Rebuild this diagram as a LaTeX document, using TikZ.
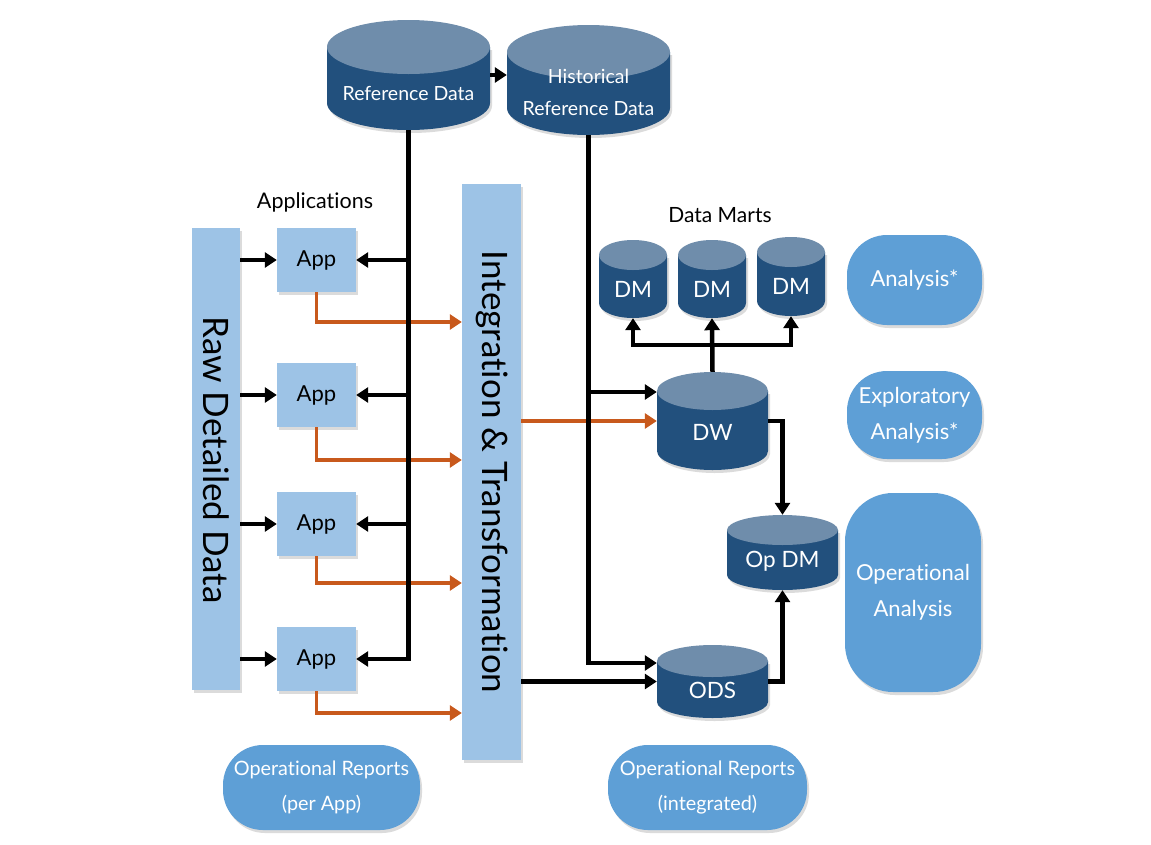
\documentclass[tikz,border=0pt]{standalone}
\usepackage{fontspec}
\setmainfont{Lato}[Ligatures=NoCommon]
\usetikzlibrary{arrows.meta,shadows}
\definecolor{cylbodyc}{HTML}{22507D}
\definecolor{cyltopc}{HTML}{6F8DAB}
\definecolor{lightc}{HTML}{9DC3E6}
\definecolor{pillc}{HTML}{5E9FD6}
\definecolor{orangec}{HTML}{C8591C}
\tikzset{
  shad/.style={drop shadow={opacity=0.28,shadow xshift=2pt,shadow yshift=-3pt}},
  cylbody/.style={fill=cylbodyc,shad},
  cyltop/.style={fill=cyltopc},
  cylnode/.style={rectangle,inner sep=0pt,draw=none},
  cyltext/.style={text=white,align=center,inner sep=0pt},
  smalltxt/.style={font=\fontsize{19.5}{32}\selectfont},
  bigtxt/.style={font=\fontsize{22.5}{32}\selectfont},
  lightbox/.style={rectangle,fill=lightc,inner sep=0pt,shad},
  apptext/.style={font=\fontsize{22}{26}\selectfont},
  rottext/.style={rotate=-90,font=\fontsize{35}{40}\selectfont,inner sep=0pt},
  pill/.style={rectangle,fill=pillc,text=white,align=center,inner sep=0pt,shad,font=\fontsize{22}{36}\selectfont},
  pillsmall/.style={font=\fontsize{19.8}{35}\selectfont},
  lbl/.style={font=\fontsize{21.5}{25}\selectfont,inner sep=0pt},
  arr/.style={line width=4.5pt,-{Triangle[length=12pt,width=15pt]}},
  oarr/.style={line width=3.5pt,draw=orangec,-{Triangle[length=12pt,width=15pt]}},
}
\newcommand\dbcyl[9]{%
  \pgfmathsetmacro\cylrx{(#4-#2)/2}%
  \pgfmathsetmacro\cylcx{(#4+#2)/2}%
  \pgfmathsetmacro\cylcy{(#3+#5)/2}%
  \pgfmathsetmacro\cylw{#4-#2}%
  \pgfmathsetmacro\cylh{#5-#3}%
  \fill[cylbody] (#2,#3+#6) -- (#2,#5-#6) arc[start angle=180,end angle=360,x radius=\cylrx pt,y radius=#6 pt] -- (#4,#3+#6) -- cycle;
  \fill[cyltop] (\cylcx,#3+#6) ellipse[x radius=\cylrx pt,y radius=#6 pt];
  \node[cylnode,minimum width=\cylw pt,minimum height=\cylh pt] (#1) at (\cylcx,\cylcy) {};
  \node[cyltext,#9] (#1-t) at (\cylcx,#7) {#8};
}
\begin{document}
\begin{tikzpicture}[x=1pt,y=-1pt]
\useasboundingbox[fill=white] (0,0) rectangle (1151,844);

% cylinders
\dbcyl{ref}{327}{20}{490}{130}{27}{93}{Reference Data}{smalltxt}
\dbcyl{hist}{507}{25}{670}{135}{27}{92}{Historical\\Reference Data}{smalltxt}
\dbcyl{dm1}{599}{240}{667}{318}{15}{289}{DM}{bigtxt}
\dbcyl{dm2}{678}{240}{746}{318}{15}{289}{DM}{bigtxt}
\dbcyl{dm3}{757}{237}{825}{316}{15}{286}{DM}{bigtxt}
\dbcyl{dw}{657}{372}{768}{470}{19}{432}{DW}{bigtxt}
\dbcyl{opdm}{727}{515}{838}{590}{15}{561}{Op DM}{bigtxt}
\dbcyl{ods}{657}{645}{768}{718}{16}{690}{ODS}{bigtxt}

% light boxes
\node[lightbox,minimum width=48pt,minimum height=462pt] (raw) at (216,459) {};
\node[rottext] (raw-t) at (216,460) {Raw Detailed Data};
\node[lightbox,minimum width=59pt,minimum height=576pt] (integ) at (491.5,472) {};
\node[rottext] (integ-t) at (492,472) {Integration \& Transformation};
\foreach \i/\y in {1/260,2/395,3/524,4/659}{
  \node[lightbox,apptext,minimum width=79pt,minimum height=64pt] (app\i) at (316.5,\y) {App};
}

% labels
\node[lbl] (applbl) at (315,202) {Applications};
\node[lbl,font=\fontsize{21}{25}\selectfont] (dmlbl) at (720,215) {Data Marts};

% pills
\node[pill,minimum width=135pt,minimum height=90pt,rounded corners=40pt] (analysis) at (914.5,280) {Analysis*};
\node[pill,minimum width=135pt,minimum height=88pt,rounded corners=40pt] (explor) at (914.5,415) {Exploratory\\Analysis*};
\node[pill,minimum width=136pt,minimum height=199pt,rounded corners=48pt] (opanal) at (913,592.5) {Operational\\Analysis};
\node[pill,pillsmall,minimum width=197pt,minimum height=85pt,rounded corners=40pt] (oprep1) at (321.5,787.5) {Operational Reports\\(per App)};
\node[pill,pillsmall,minimum width=199pt,minimum height=85pt,rounded corners=40pt] (oprep2) at (707.5,787.5) {Operational Reports\\(integrated)};

% helper coordinates
\coordinate (o1) at (316,322);
\coordinate (o2) at (316,460);
\coordinate (o3) at (316,583);
\coordinate (o4) at (316,713);
\coordinate (dwin) at (600,392);
\coordinate (odsin) at (600,663);
\coordinate (dmbus) at (712,345);
\coordinate (refarr) at (500,75);

% orange connectors (under black)
\foreach \i in {1,2,3,4}{
  \draw[oarr] (app\i.south) |- (integ.west |- o\i);
}
\draw[oarr] (integ.east |- dw.west) -- (dw.west);

% black connectors
\draw[arr] (ref.east |- refarr) -- (hist.west |- refarr);
\foreach \i in {1,2,3}{
  \draw[arr] (raw.east |- app\i.west) -- (app\i.west);
  \draw[arr] (ref.south |- app\i.east) -- (app\i.east);
}
\draw[arr] (raw.east |- app4.west) -- (app4.west);
\draw[arr] (ref.south) |- (app4.east);
\draw[arr] (hist.south) |- (ods.west |- odsin);
\draw[arr] (hist.south |- dwin) -- (dw.west |- dwin);
\draw[arr] (integ.east |- ods.west) -- (ods.west);
\draw[arr] (dw.north) -- (dm2.south);
\draw[arr] (dm2.south |- dmbus) -| (dm1.south);
\draw[arr] (dm2.south |- dmbus) -| (dm3.south);
\draw[arr] (dw.east) -| (opdm.north);
\draw[arr] (ods.east) -| (opdm.south);
\end{tikzpicture}
\end{document}
